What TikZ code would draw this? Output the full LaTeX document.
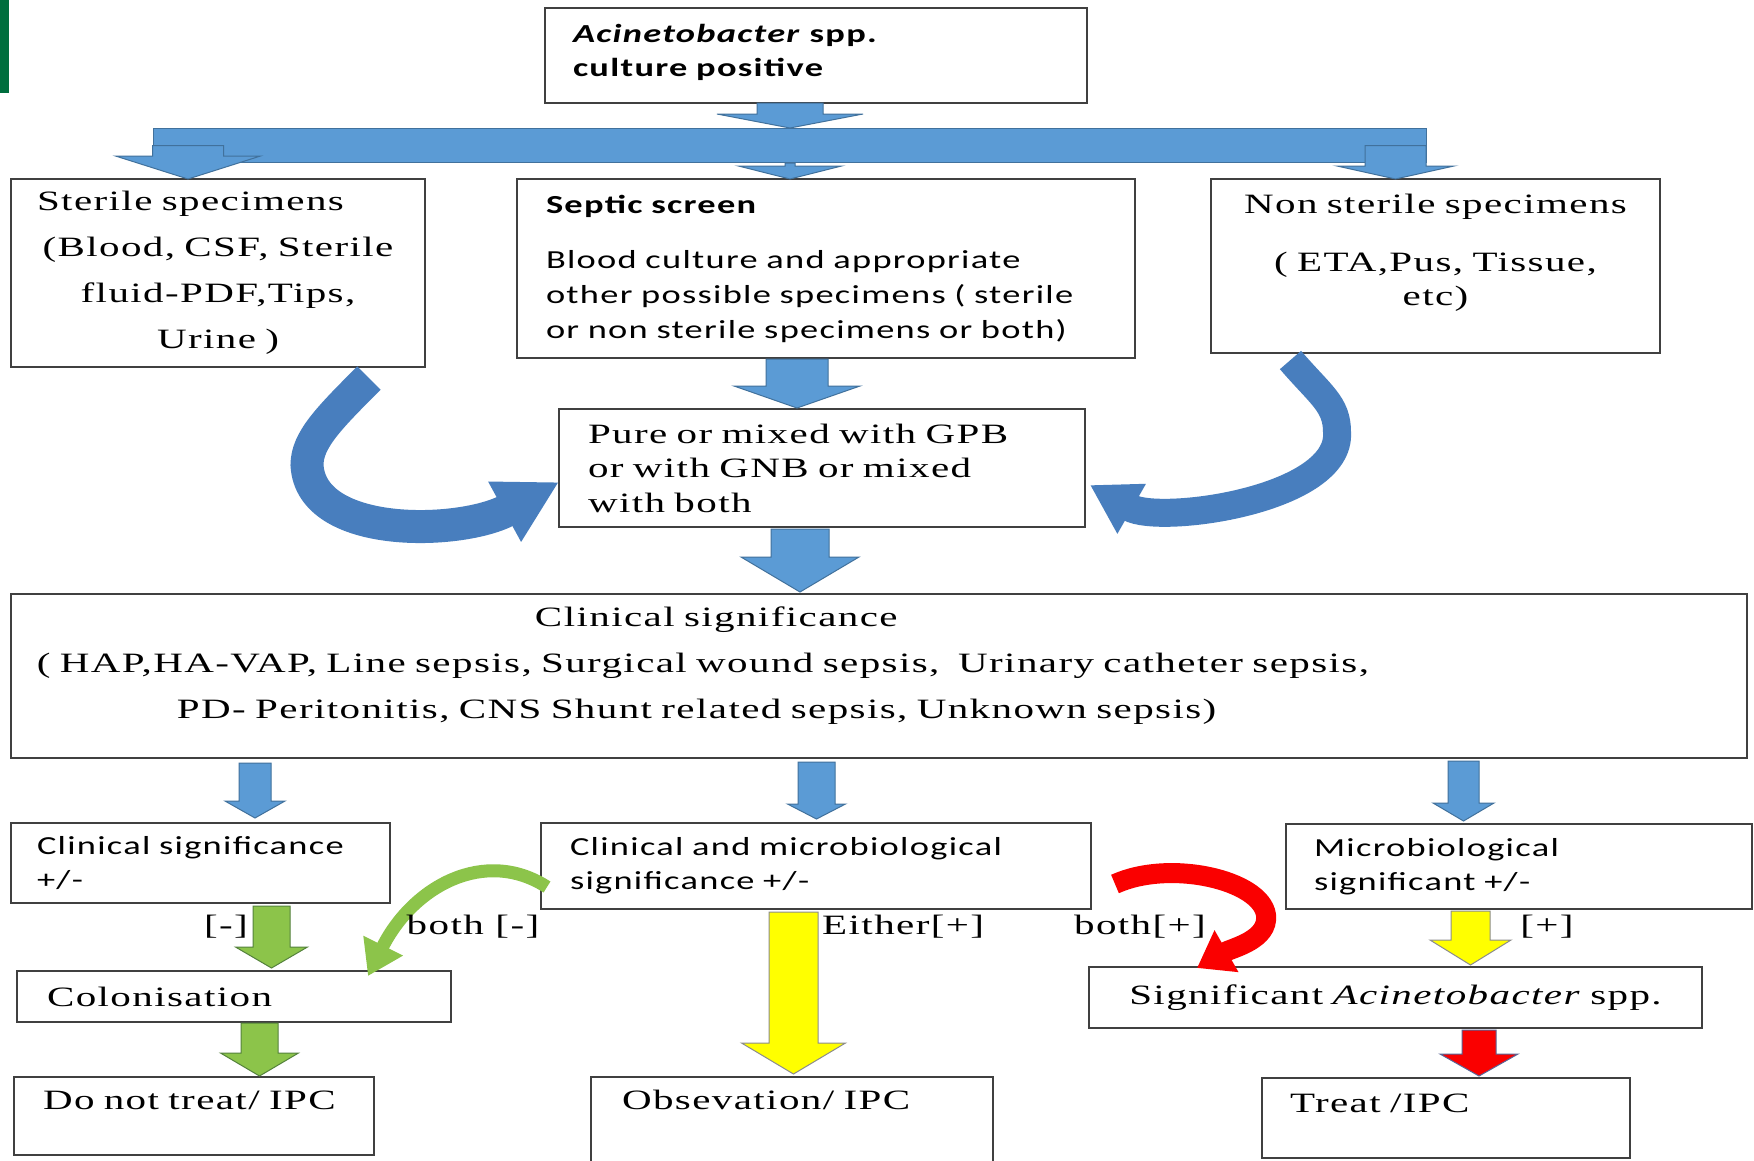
\documentclass[tikz,border=0pt]{standalone}
\usepackage{fontspec}
\setmainfont{Liberation Serif}[FakeStretch=1.465,LetterSpace=5]
\newfontfamily\calibfont{Carlito}[FakeStretch=1.4,LetterSpace=5]
\usetikzlibrary{arrows.meta,calc}

\definecolor{boxline}{RGB}{64,64,64}
\definecolor{arrowblue}{RGB}{91,155,213}
\definecolor{arrowblueline}{RGB}{65,113,156}
\definecolor{curveblue}{RGB}{72,126,190}
\definecolor{arrowgreen}{RGB}{140,196,74}
\definecolor{arrowgreenline}{RGB}{84,130,60}
\definecolor{arrowyellow}{RGB}{255,255,0}
\definecolor{arrowred}{RGB}{250,0,0}
\definecolor{arrowredline}{RGB}{90,100,150}
\definecolor{bargreen}{RGB}{0,110,62}

\tikzset{
  box/.style={draw=boxline, line width=1.6pt, fill=white, anchor=north west, inner sep=0pt, outer sep=0pt},
  serif/.style={font=\fontsize{28}{#1}\selectfont},
  sans/.style={font=\calibfont\fontsize{26}{#1}\selectfont},
  lbl/.style={font=\fontsize{28}{30}\selectfont, inner sep=0pt},
  bluearrow/.style={fill=arrowblue, draw=arrowblueline, line width=1pt},
  greenarrow/.style={fill=arrowgreen, draw=arrowgreenline, line width=1pt},
  yellowarrow/.style={fill=arrowyellow, draw=black!45, line width=1pt},
  redarrow/.style={fill=arrowred, draw=arrowredline, line width=1pt},
}

% block arrow pointing down: style, tail, tip, half shaft, half head, head length, gap
\newcommand\blockdown[7]{%
  \path[#1] let \p1=#2, \p2=#3 in
    (\x1-#4pt,\y1-#7pt) -- (\x1+#4pt,\y1-#7pt) -- (\x1+#4pt,\y2+#7pt+#6pt)
    -- (\x1+#5pt,\y2+#7pt+#6pt) -- (\x1,\y2+#7pt) -- (\x1-#5pt,\y2+#7pt+#6pt)
    -- (\x1-#4pt,\y2+#7pt+#6pt) -- cycle;}

\begin{document}
\begin{tikzpicture}[x=1pt, y=-1pt]
  \fill[white] (0,0) rectangle (1754,1160);
  \useasboundingbox (0,0) rectangle (1754,1160);
  \fill[bargreen] (0,0) rectangle (9,93);

  % boxes
  \node[box, font=\calibfont\bfseries\fontsize{26}{34}\selectfont, minimum width=542pt, minimum height=95pt, text width=486pt, align=left] (top) at (545,8)
    {\textit{Acinetobacter} spp.\\culture positive\\[-24pt]\mbox{}};
  \node[box, serif=46, minimum width=414pt, minimum height=188pt, text width=394pt, align=center] (sterile) at (11,179)
    {\makebox[394pt][l]{\hspace{16pt}Sterile specimens}\\(Blood, CSF, Sterile\\fluid-PDF,Tips,\\Urine )};
  \node[box, sans=35, minimum width=618pt, minimum height=179pt, text width=560pt, align=left] (septic) at (517,179)
    {\textbf{Septic screen}\\[20pt]Blood culture and appropriate\\\mbox{other possible specimens ( sterile}\\or non sterile specimens or both)};
  \node[box, serif=34, minimum width=449pt, minimum height=174pt, text width=429pt, align=center] (nonsterile) at (1211,179)
    {Non sterile specimens\\[24pt]( ETA,Pus, Tissue,\\etc)\\[-2pt]\mbox{}};
  \node[box, serif=34.5, minimum width=526pt, minimum height=118pt, text width=468pt, align=left] (pure) at (559,409)
    {Pure or mixed with GPB\\or with GNB or mixed\\with both};
  \node[box, serif=46, minimum width=1736pt, minimum height=164pt, text width=1684pt, align=left] (clinical) at (11,594)
    {\hspace*{498pt}Clinical significance\\( HAP,HA-VAP, Line sepsis, Surgical wound sepsis,\ \ Urinary catheter sepsis,\\\hspace*{140pt}PD- Peritonitis, CNS Shunt related sepsis, Unknown sepsis)\\[-20pt]\mbox{}};

  \node[box, sans=34, minimum width=379pt, minimum height=80pt, text width=327pt, align=left] (clinsig) at (11,823)
    {\mbox{Clinical significance}\\+/-};
  \node[box, sans=34, minimum width=550pt, minimum height=86pt, text width=492pt, align=left] (clinmicro) at (541,823)
    {Clinical and microbiological\\significance +/-};
  \node[box, sans=34, minimum width=466pt, minimum height=85pt, text width=410pt, align=left] (micro) at (1286,824)
    {Microbiological\\significant +/-};

  \node[box, serif=34, minimum width=434pt, minimum height=51pt, text width=374pt, align=left] (colon) at (17,971)
    {Colonisation};
  \node[box, serif=34, minimum width=613pt, minimum height=61pt, text width=593pt, align=center] (signif) at (1089,967)
    {Significant \textit{Acinetobacter} spp.};
  \node[box, serif=34, minimum width=360pt, minimum height=78pt, text width=302pt, align=left] (notreat) at (14,1077)
    {\mbox{Do not treat/ IPC}\\[-2pt]\mbox{}};
  \node[box, serif=34, minimum width=402pt, minimum height=86pt, text width=340pt, align=left] (observe) at (591,1077)
    {Obsevation/ IPC\\[6pt]\mbox{}};
  \node[box, serif=34, minimum width=368pt, minimum height=80pt, text width=312pt, align=left] (treat) at (1262,1078)
    {Treat /IPC\\[-4pt]\mbox{}};

  % branching arrow
  \node[bluearrow, anchor=north west, minimum width=1273pt, minimum height=34pt, inner sep=0pt] (bar) at (153,128) {};
  \blockdown{bluearrow}{(790,0 |- top.south)}{(790,0 |- bar.north)}{33}{73}{14}{0}
  \blockdown{bluearrow}{(188,0 |- bar.center)}{(188,0 |- sterile.north)}{35.5}{72.5}{23}{0}
  \blockdown{bluearrow}{(790,0 |- bar.south)}{(790,0 |- septic.north)}{5}{51.5}{13}{0}
  \blockdown{bluearrow}{(1395.5,0 |- bar.center)}{(1395.5,0 |- nonsterile.north)}{30.5}{58.5}{13}{0}

  \blockdown{bluearrow}{(797,0 |- septic.south)}{(797,0 |- pure.north)}{31}{63}{22}{1}
  \blockdown{bluearrow}{(800,0 |- pure.south)}{(800,0 |- clinical.north)}{29}{59}{35}{2}

  \blockdown{bluearrow}{(255,0 |- clinical.south)}{(255,0 |- clinsig.north)}{16}{30}{17}{5}
  \blockdown{bluearrow}{(816.5,0 |- clinical.south)}{(816.5,0 |- clinmicro.north)}{18.5}{29}{15}{4}
  \blockdown{bluearrow}{(1463.5,0 |- clinical.south)}{(1463.5,0 |- micro.north)}{15.5}{30.5}{18}{3}

  \blockdown{greenarrow}{(271.5,0 |- clinsig.south)}{(271.5,0 |- colon.north)}{18.5}{36}{21}{3}
  \blockdown{yellowarrow}{(793.5,0 |- clinmicro.south)}{(793.5,0 |- observe.north)}{24.5}{52}{31}{3}
  \blockdown{yellowarrow}{(1470.5,0 |- micro.south)}{(1470.5,0 |- signif.north)}{19.5}{40.5}{25}{2}
  \blockdown{redarrow}{(1479,0 |- signif.south)}{(1479,0 |- treat.north)}{17}{39}{22}{2}
  \blockdown{greenarrow}{(259.5,0 |- colon.south)}{(259.5,0 |- notreat.north)}{18.5}{39}{23}{1}

  % curved arrows
  \draw[curveblue, line width=33pt, -{Triangle[width=64pt,length=62pt]}]
    ([xshift=-56pt,yshift=-11pt]sterile.south east) .. controls +(-40,40) and +(0,-25) .. (307,465)
    .. controls +(4,75) and +(-97,53) .. ([yshift=-14pt]pure.west);
  \draw[curveblue, line width=28pt, -{Triangle[width=54pt,length=48pt]}]
    ([xshift=-145pt,yshift=-7pt]nonsterile.south) .. controls +(30,35) and +(0,-28) .. (1337,432)
    .. controls +(5,68) and +(70,40) .. ([xshift=5pt,yshift=-17pt]pure.east);
  \draw[arrowgreen, line width=13pt, -{Triangle[width=42pt,length=34pt]}]
    ([xshift=6pt,yshift=-21pt]clinmicro.west) .. controls +(-62,-40) and +(45,-90) .. ([xshift=-83pt,yshift=-5pt]colon.north east);
  \draw[arrowred, line width=20pt, -{Triangle[width=46pt,length=34pt]}]
    ([xshift=24pt,yshift=-18pt]clinmicro.east) .. controls +(55,-25) and +(-5,-35) .. (1266,915)
    .. controls +(3,25) and +(35,-20) .. ([xshift=108pt,yshift=-1pt]signif.north west);

  % labels
  \node[lbl] (neg) at (226,927) {[-]};
  \node[lbl] (bothneg) at (473,927) {both [-]};
  \node[lbl, anchor=west] (either) at (822,927) {Either[+]};
  \node[lbl] (bothpos) at (1140,927) {both[+]};
  \node[lbl] (pos) at (1547,927) {[+]};
\end{tikzpicture}
\end{document}
